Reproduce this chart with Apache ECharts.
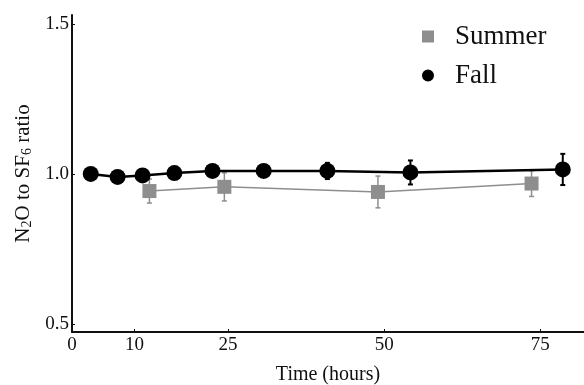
<!DOCTYPE html>
<html>
<head>
<meta charset="utf-8">
<script src="https://cdn.jsdelivr.net/npm/echarts@6/dist/echarts.min.js"></script>
<style>html,body{margin:0;padding:0;background:#fff}#c{width:584px;height:385px}</style>
</head>
<body>
<div id="c"></div>
<script>
const fallTime = [3, 7.3, 11.3, 16.4, 22.5, 30.7, 40.9, 54.2, 78.6];
const fallRatio = [1.0, 0.99, 0.995, 1.003, 1.01, 1.01, 1.01, 1.005, 1.015];
const fallErr = [0, 0, 0, 0, 0, 0, 0.027, 0.04, 0.052];
const summerTime = [12.4, 24.4, 49, 73.6];
const summerRatio = [0.943, 0.957, 0.94, 0.968];
const summerErr = [0.04, 0.047, 0.053, 0.043];
const xTicks = [0, 10, 25, 50, 75];
const yTicks = [0.5, 1.0, 1.5];

const font = 'Liberation Serif';
function pts(t, v){ return t.map((x,i)=>[x, v[i]]); }
function errData(t, v, e){ return t.map((x,i)=>[x, v[i]-e[i], v[i]+e[i]]); }
function errSeries(data, color, w){
  return {
    type: 'custom', silent: true, z: 1,
    renderItem: function(params, api){
      const x = api.value(0);
      const lo = api.coord([x, api.value(1)]);
      const hi = api.coord([x, api.value(2)]);
      const c = 2.5;
      return { type: 'group', children: [
        {type:'line', shape:{x1:lo[0],y1:lo[1],x2:hi[0],y2:hi[1]}, style:{stroke:color,lineWidth:w}},
        {type:'line', shape:{x1:lo[0]-c,y1:lo[1],x2:lo[0]+c,y2:lo[1]}, style:{stroke:color,lineWidth:w}},
        {type:'line', shape:{x1:hi[0]-c,y1:hi[1],x2:hi[0]+c,y2:hi[1]}, style:{stroke:color,lineWidth:w}}
      ]};
    },
    encode: {x: 0, y: [1, 2]},
    data: data
  };
}

const chart = echarts.init(document.getElementById('c'));
chart.setOption({
  animation: false,
  backgroundColor: '#fff',
  grid: {left: 72, right: 0, top: 15, bottom: 53, containLabel: false, outerBoundsMode: 'none'},
  legend: {
    left: 416, top: 23, orient: 'vertical', itemGap: 12, padding: 0,
    itemWidth: 24, itemHeight: 12,
    textStyle: {fontFamily: font, fontSize: 27, color: '#111', padding: [0, 0, 0, 10]},
    data: [
      {name: 'Summer', icon: 'path://M6,0 L18,0 L18,12 L6,12 Z', itemStyle: {color: '#8e8e8e'}},
      {name: 'Fall', icon: 'path://M12,0 A6,6 0 1 1 11.99,0 Z M0,6 L0,6.01 M24,6 L24,6.01', itemStyle: {color: '#000'}}
    ]
  },
  xAxis: {
    type: 'value', min: 0, max: 82,
    name: 'Time (hours)', nameLocation: 'middle', nameGap: 33,
    nameTextStyle: {fontFamily: font, fontSize: 20, color: '#111'},
    axisLine: {lineStyle: {color: '#111', width: 2}},
    axisTick: {show: true, inside: true, length: 3, customValues: xTicks, lineStyle: {color: '#111'}},
    axisLabel: {customValues: xTicks, fontFamily: font, fontSize: 19, color: '#111', margin: 4},
    splitLine: {show: false}
  },
  yAxis: {
    type: 'value', min: 0.473, max: 1.53,
    name: '{n|N}{s|2}{n|O to SF}{s|6}{n| ratio}', nameLocation: 'middle', nameGap: 37, nameRotate: 90,
    nameTextStyle: {
      fontFamily: font, fontSize: 21, color: '#111',
      rich: {
        n: {fontFamily: font, fontSize: 21, color: '#111'},
        s: {fontFamily: font, fontSize: 14, color: '#111', verticalAlign: 'bottom', padding: [8,0,0,0]}
      }
    },
    axisLine: {show: true, lineStyle: {color: '#111', width: 2}},
    axisTick: {show: true, inside: true, length: 3, customValues: yTicks, lineStyle: {color: '#111'}},
    axisLabel: {customValues: yTicks, formatter: v => v.toFixed(1), fontFamily: font, fontSize: 19, color: '#111', margin: 3},
    splitLine: {show: false}
  },
  series: [
    errSeries(errData(summerTime, summerRatio, summerErr), '#8e8e8e', 1.5),
    {
      name: 'Summer', type: 'line', data: pts(summerTime, summerRatio), z: 2,
      symbol: 'rect', symbolSize: 14,
      lineStyle: {color: '#8e8e8e', width: 1.5},
      itemStyle: {color: '#8e8e8e'}
    },
    errSeries(errData(fallTime, fallRatio, fallErr), '#000', 2),
    {
      name: 'Fall', type: 'line', data: pts(fallTime, fallRatio), z: 3,
      symbol: 'circle', symbolSize: 16,
      lineStyle: {color: '#000', width: 2.5},
      itemStyle: {color: '#000'}
    }
  ]
});
</script>
</body>
</html>
